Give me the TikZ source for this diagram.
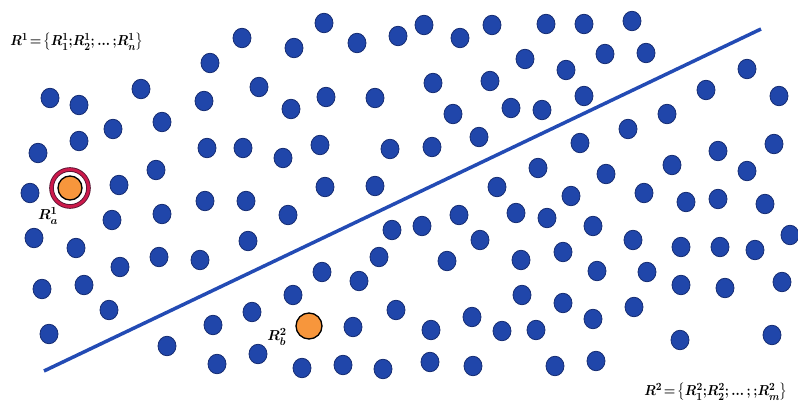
\documentclass[tikz,border=0pt]{standalone}
\usepackage{amsmath}
\usepackage{graphicx}
\usetikzlibrary{shapes.geometric}
\definecolor{dotfill}{RGB}{32,70,170}
\definecolor{dotedge}{RGB}{22,45,115}
\definecolor{linecol}{RGB}{35,75,180}
\definecolor{ringcol}{RGB}{205,25,75}
\definecolor{ringedge}{RGB}{90,20,50}
\definecolor{orangefill}{RGB}{247,150,60}
\newcommand{\semic}{\mathord{;}}
\begin{document}
\begin{tikzpicture}[x=1pt,y=-1pt,
  dotstyle/.style={ellipse,fill=dotfill,draw=dotedge,line width=0.8pt,minimum width=18pt,minimum height=19.5pt,inner sep=0pt},
  orangedot/.style={circle,fill=orangefill,draw=black,line width=1.3pt,inner sep=0pt},
  lab/.style={inner sep=0pt,font=\fontsize{15.5}{18}\selectfont\boldmath}]
\useasboundingbox (0,0) rectangle (798,406);
\foreach \px/\py [count=\i] in {
242/38,324/23,294/48,357/43,398/36,424/25,460/38,492/25,546/24,584/24,
632/21,605/54,646/53,210/63,525/59,566/70,747/69,259/87,141/89,50/98,
79/105,204/101,291/109,326/97,375/98,433/83,490/81,584/96,706/90,779/96,
453/114,511/108,542/110,667/114,113/129,162/122,79/141,38/153,207/148,243/148,
283/158,320/145,390/149,432/147,479/137,580/143,628/129,718/151,774/144,156/170,
119/185,30/193,538/168,606/174,672/165,747/171,325/187,375/186,497/187,571/196,
644/193,205/201,246/201,686/202,718/199,765/204,
112/220,162/214,288/215,392/230,422/226,459/215,516/213,547/218,593/226,480/240,
633/240,681/247,720/247,755/250,790/235,34/238,76/248,248/241,200/260,159/257,
120/267,379/257,447/261,521/260,563/252,597/271,647/272,322/272,359/281,681/285,
725/288,782/282,42/289,84/285,293/295,522/295,563/303,634/307,109/310,252/312,
396/310,472/317,593/319,49/334,213/325,353/327,431/330,502/331,536/330,680/340,
772/335,167/346,258/354,217/364,302/368,343/365,383/369,430/362,473/366,555/366,
596/361}
  \node[dotstyle] (d\i) at (\px,\py) {};
% separating line
\coordinate (la) at (44,371);
\coordinate (lb) at (761,29);
\draw[linecol,line width=3.5pt] (la) -- (lb);
% highlighted point R_a^1
\node[circle,draw=ringedge,line width=4.6pt,minimum size=37pt,inner sep=0pt] (ring) at (70,188) {};
\node[circle,draw=ringcol,line width=2.8pt,minimum size=37pt,inner sep=0pt] (ringin) at (70,188) {};
\node[orangedot,minimum size=24pt] (ra) at (70,188) {};
\node[lab] (rala) at (48,216) {$R^{1}_{a}$};
% point R_b^2
\node[orangedot,minimum size=26pt] (rb) at (309,326) {};
\node[lab] (rblab) at (277,337) {$R^{2}_{b}$};
% set labels
\node[lab] (set1) at (77,42) {\scalebox{0.92}[1]{$R^{1}\!=\!\left\{R^{1}_{1}\semic R^{1}_{2}\semic\,{\ldotp}{\ldotp}{\ldotp}\,\semic R^{1}_{n}\right\}$}};
\node[lab] (set2) at (716,392) {\scalebox{0.92}[1]{$R^{2}\!=\!\left\{R^{2}_{1}\semic R^{2}_{2}\semic\,{\ldotp}{\ldotp}{\ldotp}\,\semic\,\semic R^{2}_{m}\right\}$}};
\end{tikzpicture}
\end{document}
